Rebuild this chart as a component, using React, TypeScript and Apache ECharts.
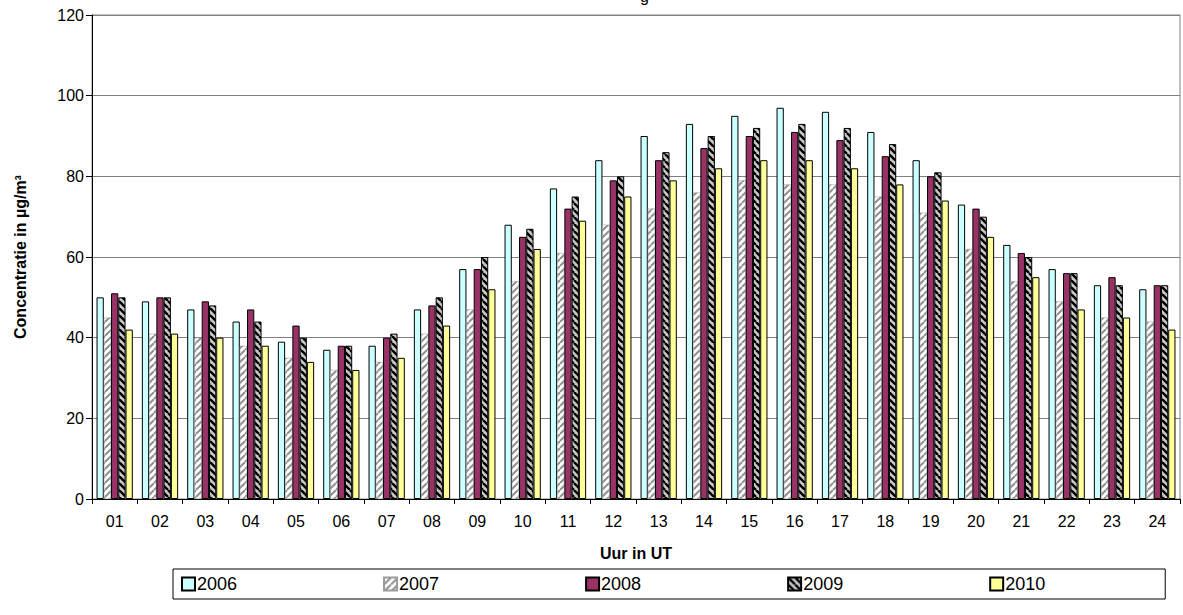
import React, { useEffect, useRef } from "react";
import * as echarts from "echarts";

const hours = ["01","02","03","04","05","06","07","08","09","10","11","12","13","14","15","16","17","18","19","20","21","22","23","24"];
const y2006 = [50,49,47,44,39,37,38,47,57,68,77,84,90,93,95,97,96,91,84,73,63,57,53,52];
const y2007 = [45,41,40,38,35,32,34,41,47,54,61,68,72,76,79,78,78,75,71,62,54,49,45,44];
const y2008 = [51,50,49,47,43,38,40,48,57,65,72,79,84,87,90,91,89,85,80,72,61,56,55,53];
const y2009 = [50,50,48,44,40,38,41,50,60,67,75,80,86,90,92,93,92,88,81,70,60,56,53,53];
const y2010 = [42,41,40,38,34,32,35,43,52,62,69,75,79,82,84,84,82,78,74,65,55,47,45,42];
const yTicks = [0, 20, 40, 60, 80, 100, 120];

const FONT = "'Liberation Sans', Arial, sans-serif";

function stripe(bg: string, fg: string, dir: "/" | "\\", lw: number, size: number) {
  const c = document.createElement("canvas");
  c.width = size;
  c.height = size;
  const ctx = c.getContext("2d")!;
  ctx.fillStyle = bg;
  ctx.fillRect(0, 0, size, size);
  ctx.strokeStyle = fg;
  ctx.lineWidth = lw;
  ctx.beginPath();
  for (let k = -1; k <= 1; k++) {
    if (dir === "/") {
      ctx.moveTo(k * size, size);
      ctx.lineTo(k * size + size, 0);
    } else {
      ctx.moveTo(k * size, 0);
      ctx.lineTo(k * size + size, size);
    }
  }
  ctx.stroke();
  return { image: c, repeat: "repeat" } as any;
}

export default function App() {
  const ref = useRef<HTMLDivElement>(null);
  useEffect(() => {
    document.body.style.margin = "0";
    const chart = echarts.init(ref.current!, undefined, { renderer: "svg" });
    const p2007 = stripe("#ffffff", "#909090", "/", 2, 7);
    const p2009 = stripe("#c8c8c8", "#000000", "\\", 2.4, 7);
    const mk = (name: string, data: number[], color: any, border: boolean) => ({
      name,
      type: "bar",
      data,
      barGap: "0%",
      barCategoryGap: "20%",
      itemStyle: {
        color,
        borderColor: border ? "#000" : "#9a9a9a",
        borderWidth: border ? 1 : 0.5,
      },
    });
    chart.setOption({
      animation: false,
      textStyle: { fontFamily: FONT },
      grid: { left: 92, top: 15, width: 1088, height: 484, show: true, borderColor: "#808080", borderWidth: 1 },
      graphic: [
        { type: "text", left: 640, top: -12, style: { text: "g", fontSize: 16, fontFamily: FONT, fill: "#000" } },
      ],
      legend: {
        left: 173,
        top: 569,
        width: 990,
        orient: "horizontal",
        padding: [6, 120, 6, 8],
        itemGap: 146,
        itemWidth: 13,
        itemHeight: 13,
        borderColor: "#000",
        borderWidth: 1,
        icon: "rect",
        textStyle: { fontSize: 18, color: "#000", fontFamily: FONT, padding: [0, 0, 0, -3] },
        data: ["2006", "2007", "2008", "2009", "2010"],
      },
      xAxis: {
        type: "category",
        data: hours,
        name: "Uur in UT",
        nameLocation: "middle",
        nameGap: 46,
        nameTextStyle: { fontSize: 16, fontWeight: "bold", color: "#000", fontFamily: FONT },
        axisLine: { lineStyle: { color: "#000" } },
        axisTick: { show: true, length: 5, lineStyle: { color: "#000" } },
        axisLabel: { fontSize: 16, color: "#000", margin: 14, fontFamily: FONT },
      },
      yAxis: {
        type: "value",
        min: yTicks[0],
        max: yTicks[yTicks.length - 1],
        interval: 20,
        name: "Concentratie in µg/m³",
        nameLocation: "middle",
        nameGap: 64,
        nameTextStyle: { fontSize: 16, fontWeight: "bold", color: "#000", fontFamily: FONT },
        axisLine: { show: true, lineStyle: { color: "#000" } },
        axisTick: { show: true, length: 6, lineStyle: { color: "#000" } },
        axisLabel: { fontSize: 16, color: "#000", margin: 8, fontFamily: FONT },
        splitLine: { lineStyle: { color: "#808080", width: 1 } },
      },
      series: [
        mk("2006", y2006, "#ccffff", true),
        mk("2007", y2007, p2007, false),
        mk("2008", y2008, "#993366", true),
        mk("2009", y2009, p2009, true),
        mk("2010", y2010, "#ffff99", true),
      ],
    });
    return () => chart.dispose();
  }, []);
  return <div ref={ref} style={{ position: "absolute", left: 0, top: 0, width: 1183, height: 615 }} />;
}
